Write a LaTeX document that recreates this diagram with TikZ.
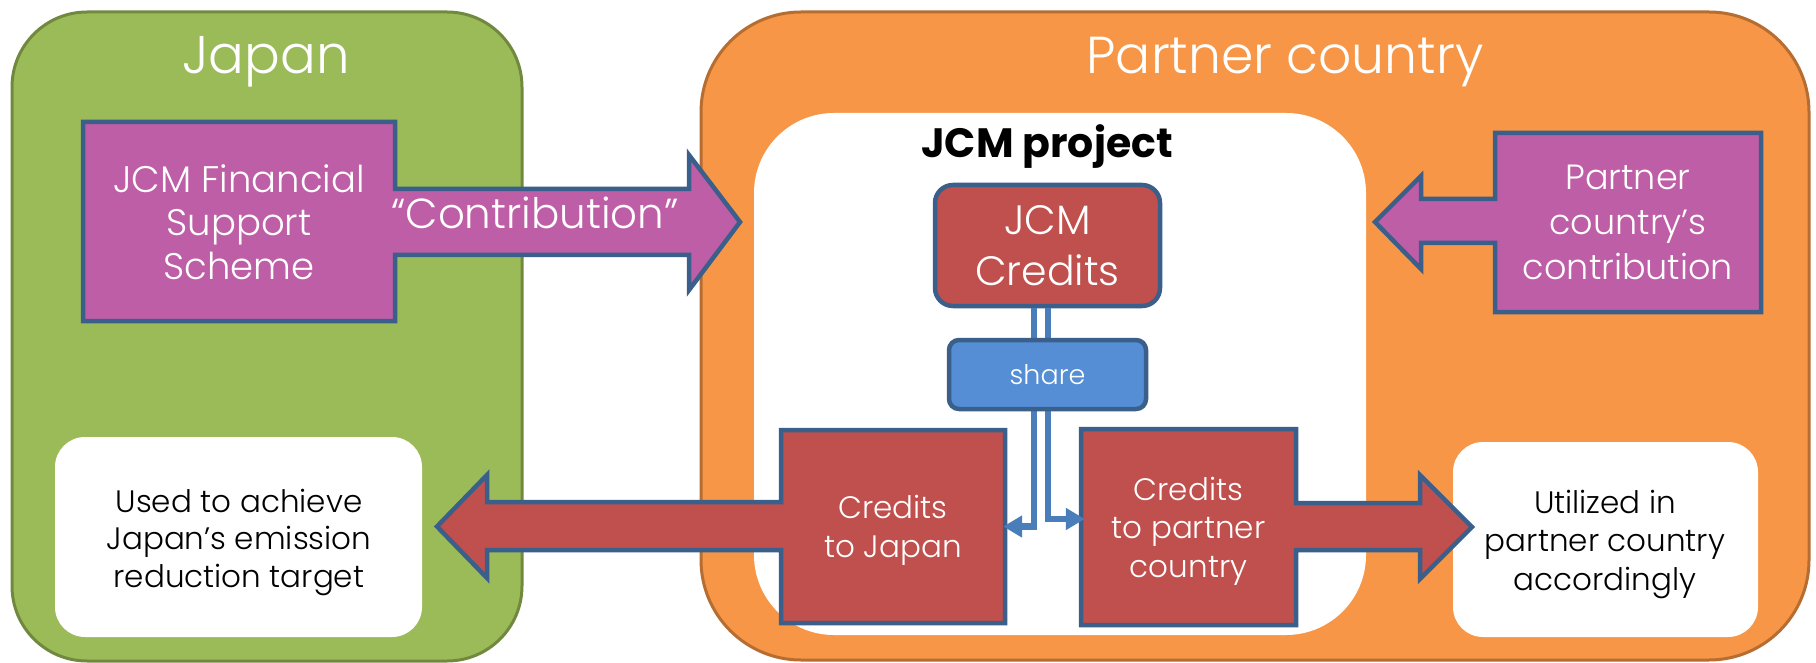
\documentclass[tikz,border=0pt]{standalone}
\usepackage{fontspec}
\setmainfont{Poppins Light}[BoldFont=Poppins Bold]
\usetikzlibrary{arrows.meta,calc}
\definecolor{jgreen}{HTML}{9BBB59}
\definecolor{jgreenD}{HTML}{71893F}
\definecolor{porange}{HTML}{F79646}
\definecolor{porangeD}{HTML}{B66D31}
\definecolor{magenta2}{HTML}{BE5EA6}
\definecolor{edgeblue}{HTML}{3A5F8B}
\definecolor{credred}{HTML}{C0504D}
\definecolor{shareblue}{HTML}{558ED5}
\definecolor{connblue}{HTML}{4A7EBB}
\tikzset{
  regionjp/.style={fill=jgreen, draw=jgreenD, line width=3pt, rounded corners=75pt},
  regionpc/.style={fill=porange, draw=porangeD, line width=3pt, rounded corners=100pt},
  whitepanel/.style={fill=white, draw=none},
  calloutshape/.style={draw=edgeblue, line width=4.5pt, line join=miter},
  credbox/.style={fill=credred, draw=edgeblue, line width=4.5pt, rounded corners=18pt, inner sep=0pt, text=white, align=center},
  sharebox/.style={fill=shareblue, draw=edgeblue, line width=4.5pt, rounded corners=10pt, inner sep=0pt, text=white, align=center},
  wtext/.style={text=white, align=center, inner sep=0pt},
  btext/.style={text=black, align=center, inner sep=0pt},
  conn/.style={draw=connblue, line width=6.5pt, -{Triangle[length=19pt,width=21pt]}}
}
\begin{document}
\begin{tikzpicture}[x=1pt,y=-1pt]
\useasboundingbox (0,0) rectangle (1816,663);
\fill[white] (0,0) rectangle (1816,663);
% regions
\draw[regionjp] (12,12) rectangle (522,661);
\draw[regionpc] (701,12) rectangle (1809,660);
\fill[whitepanel, rounded corners=80pt] (754,113) rectangle (1366,635);
\fill[whitepanel, rounded corners=30pt] (55,437) rectangle (422,637);
\fill[whitepanel, rounded corners=30pt] (1453,442) rectangle (1758,637);
% titles
\node[wtext, anchor=base, font=\fontsize{53}{60}\selectfont] (jptitle) at (266,74) {Japan};
\node[wtext, anchor=base, font=\fontsize{52}{60}\selectfont] (pctitle) at (1285,74) {Partner country};
\node[btext, anchor=base, font=\fontsize{41}{48}\selectfont\bfseries] (projtitle) at (1047,158) {JCM project};
% purple callouts
\draw[calloutshape, fill=magenta2] (83,122) -- (395,122) -- (395,189) -- (689,189) -- (689,155) -- (740,222) -- (689,290) -- (689,255) -- (395,255) -- (395,321) -- (83,321) -- cycle;
\draw[calloutshape, fill=magenta2] (1761,133) -- (1761,312) -- (1495,312) -- (1495,243) -- (1421,243) -- (1421,269) -- (1375,222) -- (1421,176) -- (1421,199) -- (1495,199) -- (1495,133) -- cycle;
\node[wtext, font=\fontsize{37}{43.5}\selectfont] (fss) at (239,222) {JCM Financial\\Support\\Scheme};
\node[wtext, anchor=base, font=\fontsize{42}{48}\selectfont] (contrib) at (535,229) {“Contribution”};
\node[wtext, font=\fontsize{35}{45}\selectfont] (pcc) at (1628,222) {Partner\\country’s\\contribution};
% red callouts
\draw[calloutshape, fill=credred] (1005,430) -- (1005,623) -- (781,623) -- (781,550) -- (487,550) -- (487,578) -- (437,526.5) -- (487,475) -- (487,502) -- (781,502) -- (781,430) -- cycle;
\draw[calloutshape, fill=credred] (1081,429) -- (1296,429) -- (1296,503) -- (1420,503) -- (1420,475) -- (1472,527) -- (1420,579) -- (1420,550) -- (1296,550) -- (1296,625) -- (1081,625) -- cycle;
\node[wtext, minimum width=224pt, minimum height=193pt, font=\fontsize{31}{39}\selectfont] (cj) at (893,526.5) {};
\node[wtext, font=\fontsize{31}{39}\selectfont] (cjtext) at (893,530) {Credits\\to Japan};
\node[wtext, minimum width=215pt, minimum height=196pt] (cp) at (1188.5,527) {};
\node[wtext, font=\fontsize{31}{38.5}\selectfont] (cptext) at (1188.5,531) {Credits\\to partner\\country};
\node[btext, font=\fontsize{31}{37.5}\selectfont] (used) at (239,542) {Used to achieve\\Japan’s emission\\reduction target};
\node[btext, font=\fontsize{31}{38.5}\selectfont] (util) at (1605,544) {Utilized in\\partner country\\accordingly};
% JCM credits and share
\node[credbox, minimum width=225pt, minimum height=121pt, font=\fontsize{41}{51}\selectfont] (credits) at (1047.5,245.5) {JCM\\Credits};
\draw[conn, shorten >=-2pt] ($(credits.south)+(-13.5pt,0)$) |- (cj.east);
\draw[conn, shorten >=-4pt] ($(credits.south)+(0.5pt,0)$) |- ([yshift=8pt]cp.west);
\node[sharebox, minimum width=197pt, minimum height=69pt, font=\fontsize{27}{32}\selectfont] (share) at (1047.5,374.5) {share};
\end{tikzpicture}
\end{document}
